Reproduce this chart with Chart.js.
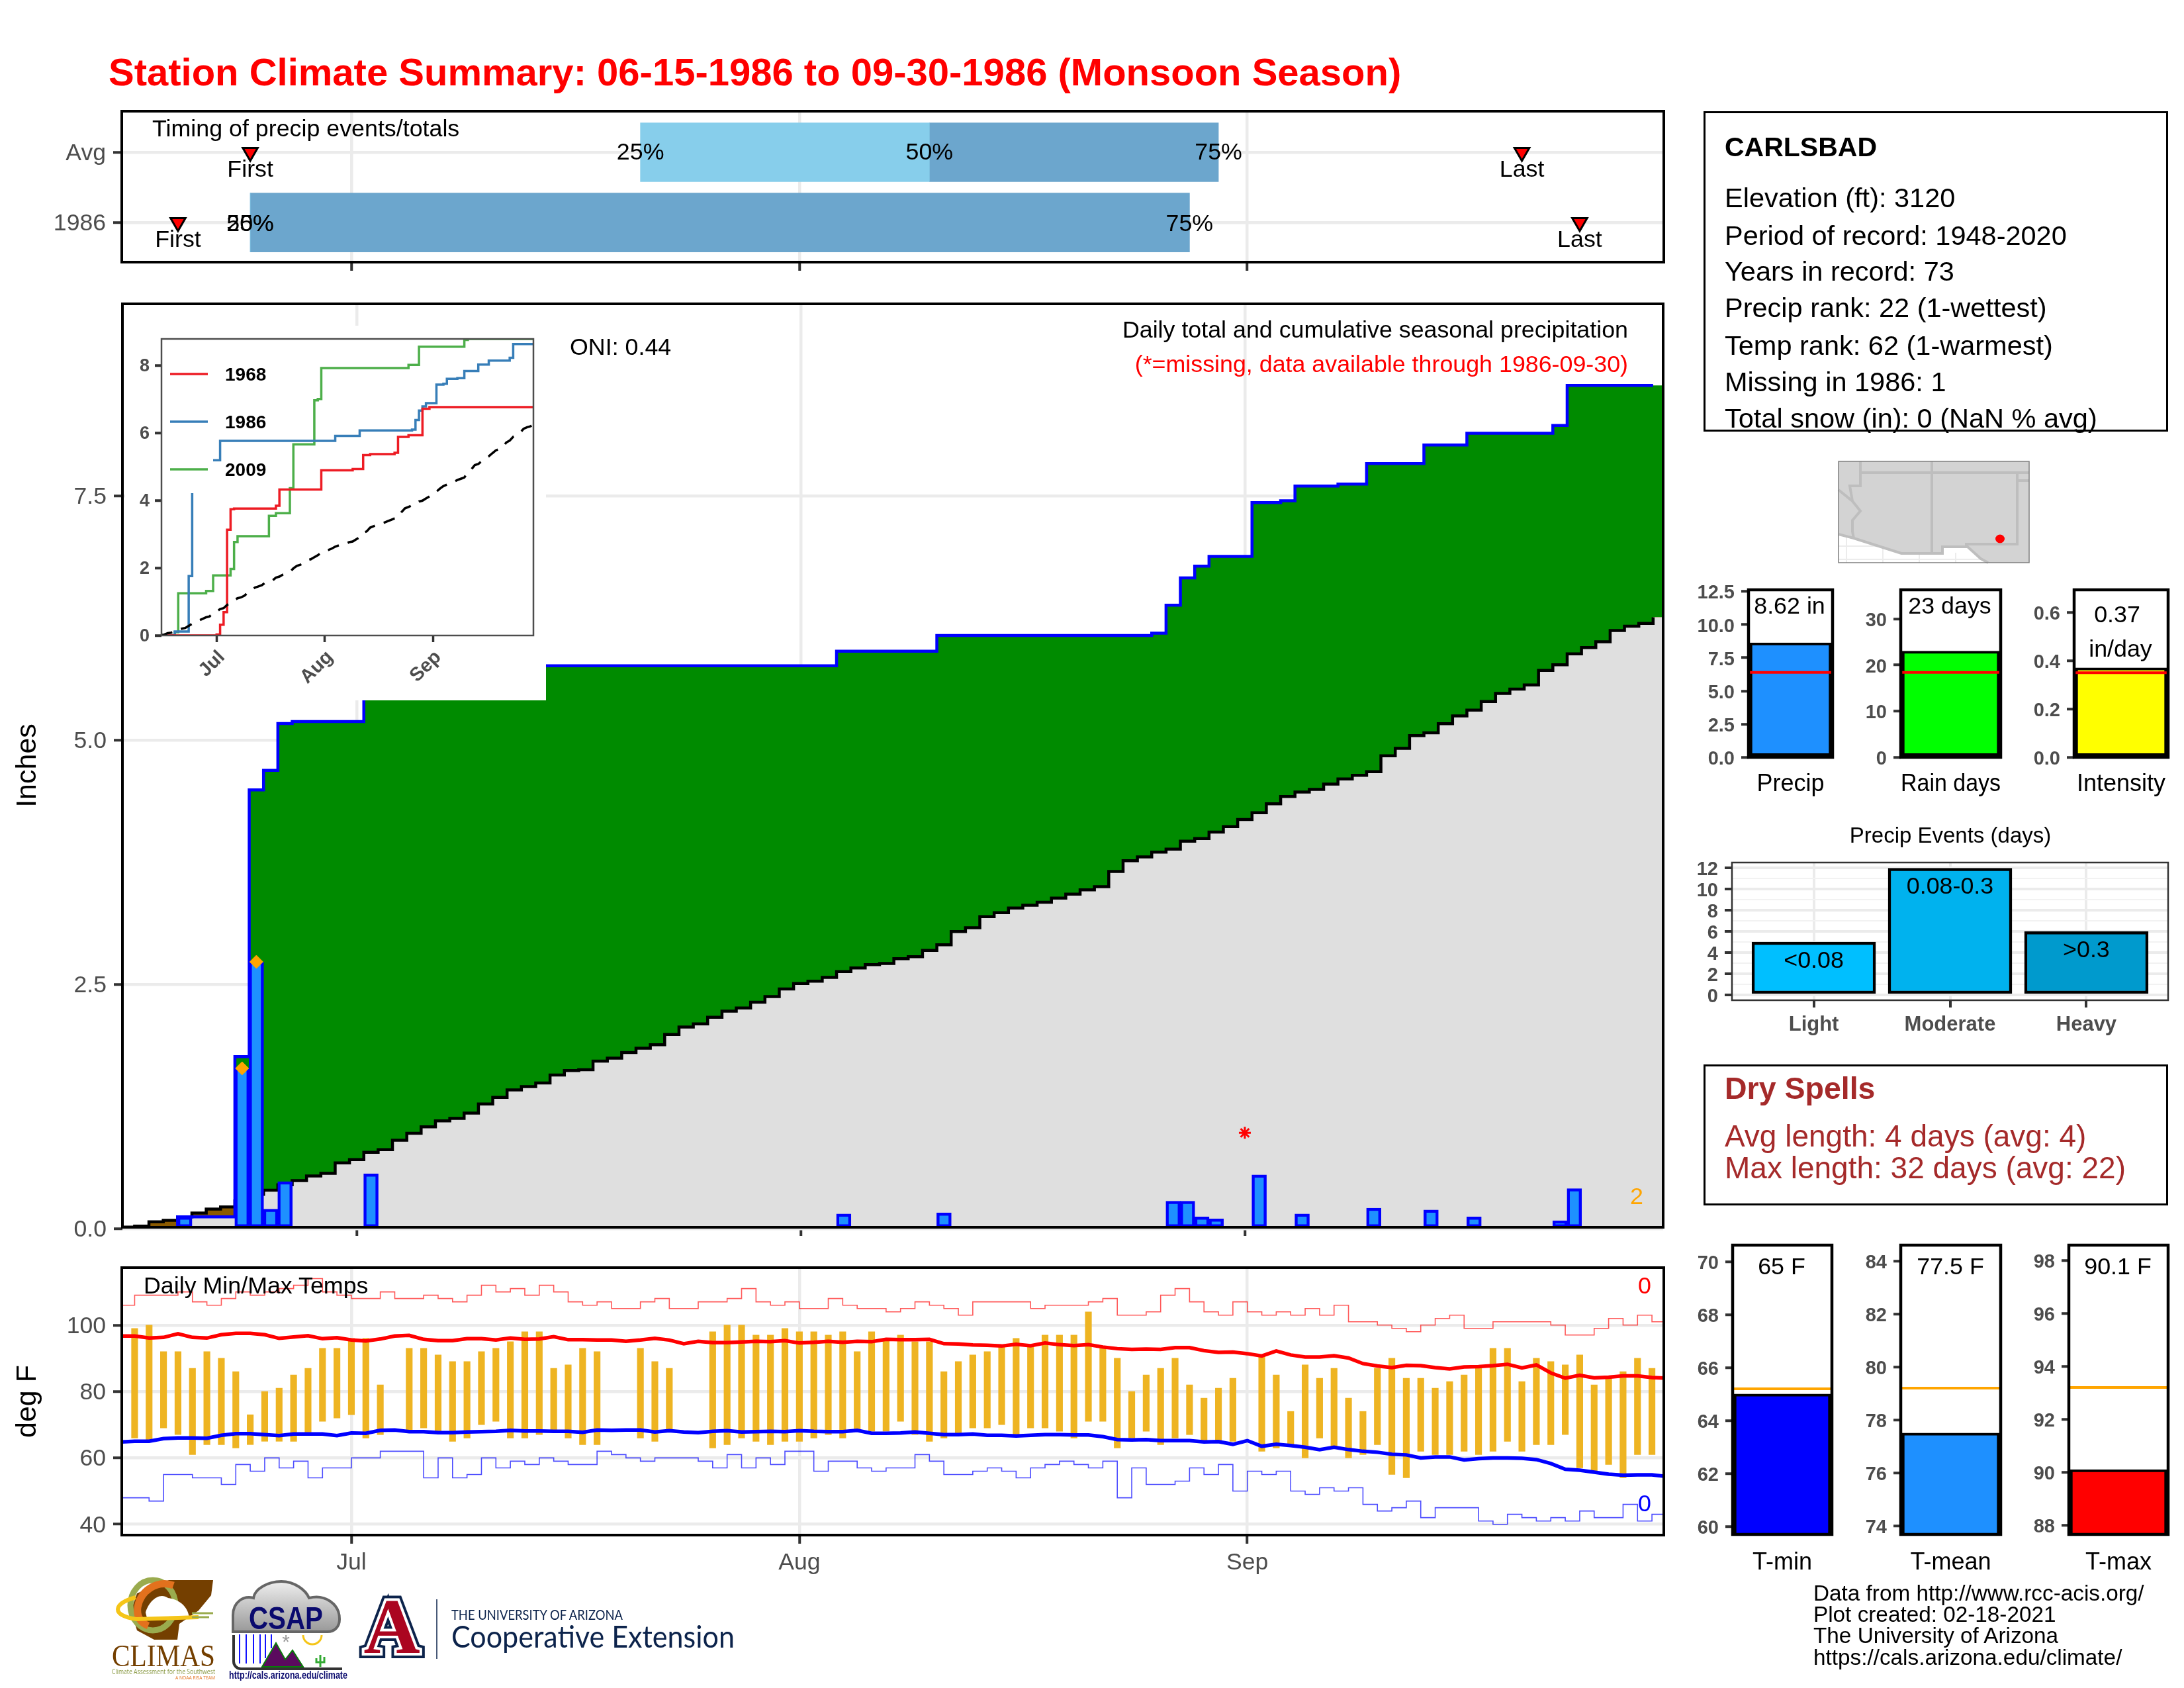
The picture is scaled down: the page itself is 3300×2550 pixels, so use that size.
<!DOCTYPE html>
<html>
<head>
<title>Station Climate Summary</title>
<script src="https://cdn.jsdelivr.net/npm/chart.js"></script>
<style>
    body { margin: 0; background: #fff; font-family: "Liberation Sans", Arial, sans-serif; }
    #page { position: relative; width: 3300px; height: 2550px; overflow: hidden; background: #fff; }
    canvas { position: absolute; }
    .t { position: absolute; z-index: 5; white-space: nowrap; line-height: 1; transform: translateY(-50%); }
    .r { transform: translate(-100%, -50%); }
    .c { transform: translate(-50%, -50%); }
    .box { position: absolute; border: 3px solid #000; box-sizing: border-box; }
    svg { position: absolute; left: 0; top: 0; z-index: 4; }
</style>
</head>
<body>
<div id="page">
    <div class="t" style="left:164px;top:109px;font-size:58px;font-weight:bold;color:#f00">Station Climate Summary: 06-15-1986 to 09-30-1986 (Monsoon Season)</div>

    <div class="t" style="left:230px;top:195px;font-size:35.8px">Timing of precip events/totals</div>
    <div class="t" style="left:861px;top:525px;font-size:35.8px">ONI: 0.44</div>
    <div class="t r" style="left:2460px;top:499px;font-size:35.8px">Daily total and cumulative seasonal precipitation</div>
    <div class="t r" style="left:2460px;top:551px;font-size:35.8px;color:#f00">(*=missing, data available through 1986-09-30)</div>
    <div class="t c" style="left:2473px;top:1808px;font-size:35.8px;color:orange">2</div>
    <div class="t" style="left:217px;top:1943px;font-size:35.8px">Daily Min/Max Temps</div>
    <div class="t c" style="left:2485px;top:1943px;font-size:35.8px;color:#f00">0</div>
    <div class="t c" style="left:2485px;top:2272px;font-size:35.8px;color:#00f">0</div>

    <div class="box" style="left:2574px;top:168px;width:702px;height:484px"></div>
    <div class="t" style="left:2606px;top:222px;font-size:41px;font-weight:bold">CARLSBAD</div>
    <div class="t" style="left:2606px;top:299px;font-size:41.5px">Elevation (ft): 3120</div>
    <div class="t" style="left:2606px;top:356px;font-size:41.5px">Period of record: 1948-2020</div>
    <div class="t" style="left:2606px;top:410px;font-size:41.5px">Years in record: 73</div>
    <div class="t" style="left:2606px;top:465px;font-size:41.5px">Precip rank: 22 (1-wettest)</div>
    <div class="t" style="left:2606px;top:522px;font-size:41.5px">Temp rank: 62 (1-warmest)</div>
    <div class="t" style="left:2606px;top:577px;font-size:41.5px">Missing in 1986: 1</div>
    <div class="t" style="left:2606px;top:632px;font-size:41.5px">Total snow (in): 0 (NaN % avg)</div>

    <div class="t c" style="left:2947px;top:1261px;font-size:33px">Precip Events (days)</div>

    <div class="box" style="left:2574px;top:1608px;width:702px;height:213px"></div>
    <div class="t" style="left:2606px;top:1644px;font-size:46.5px;font-weight:bold;color:#a52a2a">Dry Spells</div>
    <div class="t" style="left:2606px;top:1716px;font-size:46px;color:#a52a2a">Avg length: 4 days (avg: 4)</div>
    <div class="t" style="left:2606px;top:1764px;font-size:46px;color:#a52a2a">Max length: 32 days (avg: 22)</div>

    <div class="t" style="left:2740px;top:2407px;font-size:33.3px">Data from http://www.rcc-acis.org/</div>
    <div class="t" style="left:2740px;top:2439px;font-size:33.3px">Plot created: 02-18-2021</div>
    <div class="t" style="left:2740px;top:2471px;font-size:33.3px">The University of Arizona</div>
    <div class="t" style="left:2740px;top:2504px;font-size:33.3px">https://cals.arizona.edu/climate/</div>

    <svg width="3300" height="2550" viewBox="0 0 3300 2550">
        <!-- locator map -->
        <rect x="2778" y="697" width="288" height="153" fill="#fff"/>
        <g stroke="#ececec" stroke-width="2">
            <path d="M2790 810V850M2845 825V850M2900 835V850M2955 835V850M2778 825H2900M2778 845H3066"/>
        </g>
        <path d="M2778 807L2801 813L2873 836H2935V826H2973L2993 844L3004 850H3066V697H2778Z" fill="#d3d3d3"/>
        <g fill="none" stroke="#bebebe" stroke-width="4">
            <path d="M2778 807L2801 813L2873 836H2935V826H2973L2993 844L3004 850"/>
            <path d="M2811 697V734H2795L2799 757L2811 772L2799 786V803L2801 813"/>
            <path d="M2778 740L2799 757"/>
            <path d="M2811 714H3066M2919 697V836M3048 714V822H2969M3048 726H3066"/>
        </g>
        <rect x="2778" y="697" width="288" height="153" fill="none" stroke="#7f7f7f" stroke-width="1.5"/>
        <ellipse cx="3022" cy="814" rx="7" ry="6.5" fill="#f00"/>

        <!-- CLIMAS logo -->
        <path d="M255 2387H322L319 2410L300 2433L271 2453L268 2477H233L207 2463L198 2433L207 2407Z" fill="#743f00"/>
        <ellipse cx="231" cy="2425" rx="34" ry="38" fill="none" stroke="#9aab4e" stroke-width="9"/>
        <path d="M262 2395C236 2386 212 2404 208 2428C206 2444 214 2452 224 2456" fill="none" stroke="#e2711d" stroke-width="11"/>
        <path d="M220 2436C224 2420 240 2404 254 2414C270 2416 284 2426 286 2444H222Z" fill="#fff"/>
        <path d="M205 2413C172 2422 166 2440 206 2446L300 2443" fill="none" stroke="#f5c518" stroke-width="6"/>
        <path d="M290 2437H322M290 2443H316" stroke="#9aab4e" stroke-width="3"/>
        <text x="169" y="2517" font-family="Liberation Serif" font-size="46" fill="#743f00" textLength="156" lengthAdjust="spacingAndGlyphs">CLIMAS</text>
        <text x="169" y="2529" font-family="Open Sans" font-size="11" fill="#8a9a45" textLength="156" lengthAdjust="spacingAndGlyphs">Climate Assessment for the Southwest</text>
        <text x="265" y="2537" font-family="Open Sans" font-size="8" fill="#e2711d" textLength="60" lengthAdjust="spacingAndGlyphs">A NOAA RISA TEAM</text>

        <!-- CSAP logo -->
        <defs><linearGradient id="cloud" x1="0" y1="0" x2="0" y2="1"><stop offset="0" stop-color="#eee"/><stop offset="1" stop-color="#999"/></linearGradient></defs>
        <path d="M352 2465V2440C352 2420 368 2410 383 2414C385 2400 405 2389 425 2389C445 2389 462 2402 467 2414C490 2408 513 2422 513 2446C513 2458 505 2465 495 2465Z" fill="url(#cloud)" stroke="#666" stroke-width="4"/>
        <text x="432" y="2461" text-anchor="middle" font-family="Liberation Sans" font-weight="bold" font-size="48" fill="#0a0a6e" textLength="112" lengthAdjust="spacingAndGlyphs">CSAP</text>
        <path d="M362 2469V2513M372 2469V2513M383 2469V2513M393 2469V2513M401 2469V2505M410 2469V2490" stroke="#11f" stroke-width="2"/>
        <path d="M353 2470V2510C353 2516 358 2521 364 2521H517" fill="none" stroke="#333" stroke-width="4"/>
        <path d="M396 2518L417 2482L431 2507L442 2493L458 2518Z" fill="#5b0a5e" stroke="#0a7a0a" stroke-width="2"/>
        <path d="M458 2470A14 14 0 0 0 486 2470" fill="none" stroke="#f5c518" stroke-width="3"/>
        <text x="432" y="2490" text-anchor="middle" font-size="30" font-family="Liberation Sans" fill="#999">*</text>
        <path d="M484 2500V2518M478 2505V2511H490V2503" fill="none" stroke="#3a3" stroke-width="3"/>
        <text x="346" y="2536" font-family="Liberation Sans" font-weight="bold" font-size="16" fill="#0a0a6e" textLength="179" lengthAdjust="spacingAndGlyphs">http://cals.arizona.edu/climate</text>

        <!-- University of Arizona logo -->
        <g font-family="Liberation Serif" font-weight="bold" font-size="118" text-anchor="middle">
            <text x="592" y="2497" fill="#0c234b" stroke="#0c234b" stroke-width="16" stroke-linejoin="miter">A</text>
            <text x="592" y="2497" fill="#fff" stroke="#fff" stroke-width="8" stroke-linejoin="miter">A</text>
            <text x="592" y="2497" fill="#ab0520">A</text>
        </g>
        <line x1="660" y1="2416" x2="660" y2="2506" stroke="#0c234b" stroke-width="1.5"/>
        <text x="682" y="2447" font-family="Lato" font-size="22" fill="#0c234b" textLength="259" lengthAdjust="spacingAndGlyphs">THE UNIVERSITY OF ARIZONA</text>
        <text x="682" y="2489" font-family="Lato" font-size="46" fill="#0c234b" textLength="428" lengthAdjust="spacingAndGlyphs">Cooperative Extension</text>
    </svg>
</div>

<script>
    // Months on the shared day axis (day 0 = Jun 15)
    const monthTicks = [16, 47, 78];
    const monthNames = ['Jul', 'Aug', 'Sep'];

    // Timing panel
    const timingRows = ['Avg', '1986'];
    const firstDay = [9, 4];
    const lastDay = [97, 101];
    const q25Day = [36, 9];
    const q50Day = [56, 9];
    const q75Day = [76, 74];

    // Daily precip (in)
    const rainDays = [4, 8, 9, 10, 11, 12, 17, 50, 57, 72, 73, 74, 75, 76, 79, 81, 82, 85, 87, 91, 94, 100, 101];
    const rainVals = [0.12, 1.64, 2.73, 0.2, 0.48, 0.02, 0.56, 0.15, 0.16, 0.02, 0.28, 0.28, 0.12, 0.1, 0.55, 0.02, 0.15, 0.02, 0.21, 0.19, 0.12, 0.08, 0.41];
    const diamondDays = [8, 9];
    const diamondVals = [1.64, 2.73];

    // Cumulative seasonal precip, one value per day
    const cum1986 = [0, 0, 0, 0, 0.12, 0.12, 0.12, 0.12, 1.76, 4.49,
        4.69, 5.17, 5.19, 5.19, 5.19, 5.19, 5.19, 5.76, 5.76, 5.76,
        5.76, 5.76, 5.76, 5.76, 5.76, 5.76, 5.76, 5.76, 5.76, 5.76,
        5.76, 5.76, 5.76, 5.76, 5.76, 5.76, 5.76, 5.76, 5.76, 5.76,
        5.76, 5.76, 5.76, 5.76, 5.76, 5.76, 5.76, 5.76, 5.76, 5.76,
        5.91, 5.91, 5.91, 5.91, 5.91, 5.91, 5.91, 6.07, 6.07, 6.07,
        6.07, 6.07, 6.07, 6.07, 6.07, 6.07, 6.07, 6.07, 6.07, 6.07,
        6.07, 6.07, 6.095, 6.38, 6.66, 6.78, 6.88, 6.88, 6.88, 7.43,
        7.43, 7.45, 7.6, 7.6, 7.6, 7.62, 7.62, 7.83, 7.83, 7.83,
        7.83, 8.02, 8.02, 8.02, 8.14, 8.14, 8.14, 8.14, 8.14, 8.14,
        8.22, 8.63, 8.63, 8.63, 8.63, 8.63, 8.63, 8.63];
    const cumAvg = [0.016, 0.026, 0.07, 0.084, 0.12, 0.159, 0.2, 0.222, 0.285, 0.35,
        0.393, 0.448, 0.491, 0.539, 0.566, 0.673, 0.707, 0.781, 0.808, 0.904,
        0.976, 1.042, 1.103, 1.128, 1.182, 1.275, 1.343, 1.42, 1.454, 1.49,
        1.572, 1.617, 1.626, 1.714, 1.744, 1.803, 1.846, 1.882, 1.986, 2.063,
        2.095, 2.163, 2.226, 2.258, 2.317, 2.375, 2.452, 2.509, 2.532, 2.572,
        2.631, 2.668, 2.702, 2.713, 2.763, 2.783, 2.847, 2.905, 3.041, 3.08,
        3.193, 3.234, 3.281, 3.309, 3.34, 3.383, 3.424, 3.467, 3.499, 3.655,
        3.766, 3.804, 3.854, 3.884, 3.965, 3.992, 4.058, 4.115, 4.187, 4.257,
        4.348, 4.423, 4.468, 4.495, 4.55, 4.602, 4.64, 4.676, 4.839, 4.916,
        5.045, 5.075, 5.168, 5.247, 5.306, 5.394, 5.478, 5.521, 5.564, 5.713,
        5.77, 5.883, 5.947, 6.006, 6.121, 6.166, 6.194, 6.257];
    const missingDays = [78];
    const missingVals = [0.98];

    // Inset: other years, as (day of change, new total)
    const days1968 = [0, 16, 17, 18, 19, 20, 21, 33, 34, 46, 55, 58, 60, 67, 68, 71, 75, 77, 107];
    const vals1968 = [0, 0.03, 0.32, 0.69, 3.13, 3.74, 3.76, 3.84, 4.32, 4.89, 4.93, 5.34, 5.37, 5.41, 5.88, 5.93, 6.71, 6.76, 6.76];
    const days2009 = [0, 4, 5, 13, 15, 20, 21, 22, 31, 33, 37, 38, 44, 45, 46, 71, 74, 87, 88, 107];
    const vals2009 = [0, 0.1, 1.25, 1.32, 1.78, 1.97, 2.77, 2.94, 3.54, 3.62, 4.36, 5.66, 6.96, 7.0, 7.92, 8.01, 8.55, 8.75, 8.78, 8.78];
    const insetYears = ['1968', '1986', '2009'];
    const insetColors = ['#ed1c24', '#377eb8', '#4daf4a'];

    // Daily temps (deg F)
    const tHigh = [null, 99, 100, 92, 92, 87, 92, 90, 86, 73,
        80, 81, 85, 87, 93, 93, 96, 96, 82, null,
        93, 93, 91, 89, 89, 92, 93, 95, 98, 98,
        87, 88, 93, 92, null, null, 93, 89, 87, null,
        null, 98, 100, 100, 97, 97, 99, 98, 98, 97,
        98, 92, 98, 96, 97, 95, 95, 86, 89, 91,
        92, 94, 96, 94, 97, 97, 97, 104, 93, 90,
        80, 85, 87, 90, 82, 78, 81, 84, null, 91,
        85, 74, 88, 84, 87, 78, 74, 87, 90, 84,
        84, 81, 83, 85, 87, 93, 93, 83, 90, 89,
        88, 91, 82, 84, 86, 90, 87, null];
    const tLow = [null, 66, 65, 69, 67, 61, 64, 64, 63, 64,
        65, 65, 65, 67, 71, 72, 73, 66, 67, null,
        68, 69, 68, 65, 66, 70, 71, 66, 66, 67,
        68, 66, 64, 64, null, null, 66, 65, 68, null,
        null, 63, 64, 66, 65, 64, 65, 65, 66, 67,
        66, 68, 68, 68, 71, 67, 65, 66, 67, 69,
        69, 70, 67, 69, 69, 68, 66, 71, 71, 63,
        66, 68, 64, 66, 67, 65, 65, 65, null, 62,
        63, 64, 60, 66, 63, 60, 61, 64, 55, 54,
        62, 61, 61, 62, 61, 62, 65, 62, 64, 64,
        67, 57, 56, 58, 54, 61, 61, null];
    const recordHigh = [106, 109, 109, 109, 110, 107, 106, 108, 110, 109,
        110, 111, 112, 114, 110, 109, 108, 108, 110, 108,
        108, 109, 108, 107, 109, 112, 110, 111, 109, 112,
        110, 107, 106, 107, 105, 105, 107, 108, 105, 105,
        107, 107, 108, 111, 107, 106, 107, 105, 105, 108,
        106, 105, 105, 104, 105, 107, 106, 105, 103, 107,
        107, 107, 107, 105, 106, 106, 106, 107, 108, 103,
        103, 104, 109, 111, 107, 104, 103, 107, 104, 103,
        104, 103, 105, 103, 106, 101, 101, 100, 99, 98,
        100, 102, 103, 99, 99, 101, 101, 101, 101, 100,
        97, 97, 99, 102, 100, 103, 101, 101];
    const recordLow = [48, 48, 47, 55, 55, 54, 54, 52, 58, 56,
        60, 57, 59, 54, 57, 57, 60, 60, 62, 62,
        62, 54, 60, 54, 55, 60, 57, 59, 58, 60,
        59, 58, 58, 62, 61, 60, 59, 60, 60, 60,
        59, 57, 61, 57, 60, 58, 62, 62, 56, 59,
        59, 57, 56, 57, 57, 61, 59, 55, 55, 56,
        57, 56, 54, 57, 58, 59, 58, 57, 59, 48,
        57, 52, 52, 53, 57, 55, 58, 50, 56, 55,
        56, 50, 49, 51, 50, 51, 46, 44, 45, 47,
        42, 45, 45, 45, 41, 40, 43, 42, 41, 42,
        41, 44, 42, 42, 46, 41, 43, 43];
    const normalHigh = [96.7, 96.7, 96.1, 96.3, 97.4, 96.3, 96.1, 97.1, 97.5, 97.5,
        97.1, 96, 96.4, 96.8, 95.9, 96.2, 95.5, 95.2, 95.8, 96.7,
        96.9, 95.7, 95.3, 95.3, 95.9, 95.9, 95.5, 96.1, 95.7, 95.8,
        96.5, 95.6, 95.6, 95.5, 95.5, 95.1, 95.5, 96, 95.5, 94.4,
        95.1, 94.7, 94.7, 94.9, 95.1, 95, 95.3, 94.6, 94.8, 95.1,
        94.8, 95.1, 95, 95.7, 95.6, 95.6, 95.7, 94.4, 94.3, 94,
        93.9, 93.7, 94.2, 93.8, 94.6, 94.1, 93.8, 94.1, 93.4, 92.9,
        92.7, 92.8, 92.7, 93.2, 93.2, 92.3, 91.8, 91.9, 91.4, 90.7,
        92.2, 91, 90.4, 90.4, 90.8, 90.1, 88.4, 87.7, 87.2, 87.9,
        87.8, 87.2, 86.8, 87.4, 87.5, 87.8, 88.2, 87.1, 88, 85.6,
        84, 84.9, 84.1, 84.3, 84.7, 84.7, 84.2, 84];
    const normalLow = [64.8, 65, 65, 65.8, 66, 66, 65.9, 66.8, 67.3, 67.3,
        67, 66.7, 67.2, 67.2, 67.2, 66.7, 67.5, 67.4, 68.3, 68.4,
        67.9, 67.9, 67.6, 67.6, 67.8, 67.9, 68, 68.3, 68.1, 68.1,
        68, 68, 67.7, 68.4, 68.3, 68.4, 68.4, 67.8, 68.2, 67.8,
        67.6, 68, 68.2, 67.8, 67.9, 68, 67.9, 68.2, 68, 67.9,
        67.9, 68.3, 67.4, 67.4, 67.5, 67.8, 67.4, 67, 67, 67.2,
        66.8, 66.8, 66.6, 66.8, 67, 67, 66.9, 66.9, 66.4, 65.5,
        65.4, 65.5, 65.2, 65.2, 65.2, 64.8, 64.9, 64.1, 65.2, 63.5,
        64.1, 63.7, 63.2, 62.5, 63.2, 62.5, 62, 61.7, 61.1, 60.9,
        60, 60.3, 60.3, 59.4, 59.8, 60, 60, 59.9, 59.5, 58.3,
        56.6, 56.3, 55.7, 55.1, 54.8, 54.9, 54.9, 54.4];

    // Right column summaries
    const eventLabels = ['Light', 'Moderate', 'Heavy'];
    const eventTexts = ['<0.08', '0.08-0.3', '>0.3'];
    const eventCounts = [5, 12, 6];
    const precipSummaryValues = [8.62, 23, 0.37];
    const precipSummaryNormals = [6.4, 18.4, 0.35];
    const tempSummaryValues = [65, 77.5, 90.1];
    const tempSummaryNormals = [65.2, 79.2, 93.2];

    const FONT = '"Liberation Sans", Arial, sans-serif';
    const GREY = '#4d4d4d';
    const GRID = '#ebebeb';
    const TICK = '#333333';
    Chart.defaults.font.family = FONT;

    const page = document.getElementById('page');

    function addCanvas(left, top, w, h, background) {
        const c = document.createElement('canvas');
        c.width = w;
        c.height = h;
        c.style.left = left + 'px';
        c.style.top = top + 'px';
        if (background) c.style.background = background;
        page.appendChild(c);
        return c.getContext('2d');
    }

    function baseOptions(scales, padding) {
        return {
            responsive: false,
            animation: false,
            devicePixelRatio: 1,
            events: [],
            layout: { padding },
            plugins: { legend: { display: false }, tooltip: { enabled: false } },
            elements: { point: { radius: 0 } },
            scales
        };
    }

    // Stop the scales reserving room for their first/last labels, the plot box is fixed
    function noPadding(s) {
        s.paddingTop = 0;
        s.paddingBottom = 0;
        s.paddingLeft = 0;
        s.paddingRight = 0;
    }

    // Panel frame on top of the marks
    function framePlugin(width, color) {
        return {
            id: 'frame',
            afterDatasetsDraw(chart) {
                const a = chart.chartArea;
                const ctx = chart.ctx;
                ctx.save();
                ctx.strokeStyle = color;
                ctx.lineWidth = width;
                ctx.strokeRect(a.left, a.top, a.right - a.left, a.bottom - a.top);
                ctx.restore();
            }
        };
    }

    // Labels placed through the chart's scales
    function textPlugin(items) {
        return {
            id: 'plotText',
            afterDatasetsDraw(chart) {
                const ctx = chart.ctx;
                ctx.save();
                ctx.textAlign = 'center';
                ctx.textBaseline = 'middle';
                ctx.fillStyle = '#000';
                ctx.font = '35.8px ' + FONT;
                items.forEach(it => {
                    ctx.fillText(it.text, chart.scales.x.getPixelForValue(it.x), chart.scales.y.getPixelForValue(it.y) + (it.dy || 0));
                });
                ctx.restore();
            }
        };
    }

    function dayAxis(min, max, height, showLabels, fontSize) {
        return {
            type: 'linear', min, max, bounds: 'data', offset: false,
            afterBuildTicks: s => { s.ticks = monthTicks.map(v => ({ value: v })); },
            afterFit: s => { s.height = height; noPadding(s); },
            grid: { offset: false, color: GRID, lineWidth: 4.5, tickColor: TICK, tickWidth: 4, tickLength: 13 },
            border: { display: false },
            ticks: {
                display: showLabels, autoSkip: false, maxRotation: 0, minRotation: 0, padding: 8,
                color: GREY, font: { size: fontSize || 35.6 },
                callback: v => monthNames[monthTicks.indexOf(v)]
            }
        };
    }

    function valueAxis(min, max, ticks, labels, width, o) {
        o = o || {};
        return {
            type: 'linear', min, max, bounds: 'data', offset: false, reverse: !!o.reverse,
            afterBuildTicks: s => { s.ticks = ticks.map(v => ({ value: v })); },
            afterFit: s => { s.width = width; noPadding(s); },
            grid: { display: true, offset: false, drawOnChartArea: o.grid !== false, color: GRID, lineWidth: 4.5, tickColor: TICK, tickWidth: 4, tickLength: o.tickLength || 13 },
            border: { display: false },
            title: o.title ? { display: true, text: o.title, color: '#000', font: { size: 43 }, padding: { top: 16, bottom: 0 } } : { display: false },
            ticks: {
                autoSkip: false, padding: o.padding || 11, color: GREY, labelOffset: o.labelShift === undefined ? 2 : o.labelShift,
                font: { size: o.size || 35.6, weight: o.bold ? 'bold' : 'normal' },
                callback: v => labels[ticks.indexOf(v)]
            }
        };
    }

    function points(xs, ys) {
        return xs.map((x, i) => ({ x, y: ys[i] }));
    }

    // ---- Timing panel ----
    new Chart(addCanvas(0, 150, 2530, 266), {
        type: 'line',
        data: {
            datasets: [
                { label: '50-75%', type: 'bar', indexAxis: 'y', grouped: false, order: 3, barThickness: 89, backgroundColor: '#6ca6cd',
                  data: timingRows.map((_, i) => ({ y: i, x: [q50Day[i], q75Day[i]] })) },
                { label: '25-50%', type: 'bar', indexAxis: 'y', grouped: false, order: 2, barThickness: 89, backgroundColor: '#87ceeb',
                  data: timingRows.map((_, i) => ({ y: i, x: [q25Day[i], q50Day[i]] })) },
                { label: 'First', showLine: false, order: 1, pointStyle: 'triangle', pointRotation: 180, pointRadius: 13, pointBackgroundColor: '#f00', pointBorderColor: '#000', pointBorderWidth: 3,
                  data: firstDay.map((x, i) => ({ x, y: i })) },
                { label: 'Last', showLine: false, order: 1, pointStyle: 'triangle', pointRotation: 180, pointRadius: 13, pointBackgroundColor: '#f00', pointBorderColor: '#000', pointBorderWidth: 3,
                  data: lastDay.map((x, i) => ({ x, y: i })) }
            ]
        },
        options: baseOptions({
            x: dayAxis(0.11, 106.82, 20, false),
            y: valueAxis(-0.585, 1.565, [0, 1], timingRows, 184, { reverse: true })
        }, { top: 18, right: 16 }),
        plugins: [framePlugin(4, '#000'), textPlugin(
            timingRows.flatMap((_, i) => [
                { text: 'First', x: firstDay[i], y: i, dy: 27 },
                { text: 'Last', x: lastDay[i], y: i, dy: 27 },
                { text: '25%', x: q25Day[i], y: i, dy: i ? 3 : 1 },
                { text: '50%', x: q50Day[i], y: i, dy: i ? 3 : 1 },
                { text: '75%', x: q75Day[i], y: i, dy: i ? 3 : 1 }
            ])
        )]
    });

    // ---- Main precip panel ----
    // steps change half way between days, so each value starts at day - 0.5
    const stepAt = v => v.map((y, i) => ({ x: i - 0.5, y }));
    const ribbonEnd = v => stepAt(v).concat([{ x: 107.5, y: v[v.length - 1] }]);

    new Chart(addCanvas(0, 440, 2530, 1440), {
        type: 'line',
        data: {
            datasets: [
                { label: 'normal area', order: 6, stepped: true, borderWidth: 0, fill: 'origin', backgroundColor: '#dfdfdf', data: ribbonEnd(cumAvg) },
                { label: 'departure', order: 5, stepped: true, borderWidth: 0, fill: { target: 0, above: '#008b00', below: '#8b5a00' }, data: ribbonEnd(cum1986) },
                { label: 'Avg', order: 4, stepped: true, borderColor: '#000', borderWidth: 4.5, fill: false, data: stepAt(cumAvg) },
                { label: '1986', order: 3, stepped: true, borderColor: '#00f', borderWidth: 4.5, fill: false, data: stepAt(cum1986) },
                { label: 'Daily', type: 'bar', order: 2, barThickness: 22, borderSkipped: false, backgroundColor: '#1e90ff', borderColor: '#00f', borderWidth: 4.5, data: points(rainDays, rainVals) },
                { label: 'Max', showLine: false, order: 1, pointStyle: 'rectRot', pointRadius: 10, pointBackgroundColor: 'orange', pointBorderColor: 'orange', data: points(diamondDays, diamondVals) },
                { label: 'Missing', showLine: false, order: 1, pointStyle: 'star', pointRadius: 9, pointBorderColor: '#f00', pointBorderWidth: 3, data: points(missingDays, missingVals) }
            ]
        },
        options: baseOptions({
            x: dayAxis(-0.35, 107.2, 26, false),
            y: valueAxis(0.0135, 9.465, [0, 2.5, 5, 7.5], ['0.0', '2.5', '5.0', '7.5'], 185, { title: 'Inches' })
        }, { top: 19, right: 17 }),
        plugins: [framePlugin(4, '#000')]
    });

    // ---- Inset of wettest / driest years ----
    const insetLegend = {
        id: 'insetLegend',
        afterDatasetsDraw(chart) {
            const ctx = chart.ctx;
            ctx.save();
            ctx.fillStyle = '#fff';
            ctx.fillRect(61, 38, 72, 215);
            ctx.font = 'bold 28px ' + FONT;
            ctx.textBaseline = 'middle';
            insetYears.forEach((year, i) => {
                const y = 73 + i * 72;
                ctx.strokeStyle = insetColors[i];
                ctx.lineWidth = 3.5;
                ctx.beginPath();
                ctx.moveTo(68, y);
                ctx.lineTo(125, y);
                ctx.stroke();
                ctx.fillStyle = '#000';
                ctx.fillText(year, 151, y + 2);
            });
            ctx.restore();
        }
    };
    const insetX = dayAxis(0.2, 106.8, 98, true, 27);
    insetX.grid = { offset: false, drawOnChartArea: false, tickColor: TICK, tickWidth: 3.5, tickLength: 10 };
    insetX.ticks.maxRotation = 45;
    insetX.ticks.minRotation = 45;
    insetX.ticks.padding = 6;
    insetX.ticks.labelOffset = 8;
    insetX.ticks.font = { size: 29, weight: 'bold' };

    new Chart(addCanvas(189, 492, 636, 566, '#fff'), {
        type: 'line',
        data: {
            datasets: [
                { label: 'Avg', stepped: false, borderColor: '#000', borderWidth: 3.5, borderDash: [18, 14], data: points(cumAvg.map((_, i) => i), cumAvg) },
                { label: insetYears[0], stepped: true, borderColor: insetColors[0], borderWidth: 3.5, data: points(days1968, vals1968) },
                { label: insetYears[1], stepped: true, borderColor: insetColors[1], borderWidth: 3.5, data: points(cum1986.map((_, i) => i), cum1986) },
                { label: insetYears[2], stepped: true, borderColor: insetColors[2], borderWidth: 3.5, data: points(days2009, vals2009) }
            ]
        },
        options: baseOptions({
            x: insetX,
            y: valueAxis(0, 8.78, [0, 2, 4, 6, 8], ['0', '2', '4', '6', '8'], 55, { grid: false, size: 27, bold: true, padding: 8, tickLength: 10 })
        }, { top: 20, right: 19 }),
        plugins: [framePlugin(2.5, '#4d4d4d'), insetLegend]
    });

    // ---- Daily temps ----
    new Chart(addCanvas(0, 1895, 2530, 494), {
        type: 'line',
        data: {
            datasets: [
                { label: 'Range', type: 'bar', order: 5, barThickness: 9.5, backgroundColor: '#eeb422',
                  data: tHigh.map((h, i) => ({ x: i, y: [tLow[i], h] })).filter(d => d.y[1] !== null) },
                { label: 'Record high', order: 4, stepped: true, borderColor: 'rgba(255,0,0,.65)', borderWidth: 1.6, data: points(recordHigh.map((_, i) => i), recordHigh) },
                { label: 'Record low', order: 4, stepped: true, borderColor: 'rgba(0,0,255,.7)', borderWidth: 1.6, data: points(recordLow.map((_, i) => i), recordLow) },
                { label: 'Normal high', order: 3, borderColor: '#f00', borderWidth: 5.5, data: points(normalHigh.map((_, i) => i), normalHigh) },
                { label: 'Normal low', order: 3, borderColor: '#00f', borderWidth: 5.5, data: points(normalLow.map((_, i) => i), normalLow) }
            ]
        },
        options: baseOptions({
            x: dayAxis(0.11, 106.82, 70, true),
            y: valueAxis(36.75, 117.3, [40, 60, 80, 100], ['40', '60', '80', '100'], 184, { title: 'deg F' })
        }, { top: 20, right: 16 }),
        plugins: [framePlugin(4, '#000')]
    });

    // ---- Small summary bars ----
    function summaryBar(o) {
        const yWidth = 100;
        const ctx = addCanvas(o.left - yWidth, o.top - 10, o.right - o.left + yWidth + 6, o.bottom - o.top + 10 + o.footer);
        new Chart(ctx, {
            type: 'line',
            data: {
                datasets: [
                    { label: o.name, type: 'bar', order: 2, barThickness: o.right - o.left - 4, borderSkipped: false, backgroundColor: o.color, borderColor: '#000', borderWidth: 4, data: [{ x: 0, y: o.value }] },
                    { label: 'Avg', order: 1, borderColor: o.lineColor, borderWidth: 4, data: [{ x: -0.6, y: o.normal }, { x: 0.6, y: o.normal }] }
                ]
            },
            options: baseOptions({
                x: {
                    type: 'linear', min: -0.6, max: 0.6, bounds: 'data', offset: false,
                    afterFit: s => { s.height = o.footer; noPadding(s); },
                    grid: { display: false, offset: false }, border: { display: false }, ticks: { display: false },
                    title: { display: true, text: o.name, color: '#000', font: { size: 36 }, padding: { top: 0, bottom: 1 } }
                },
                y: valueAxis(o.min, o.max, o.ticks, o.ticks.map(o.format), yWidth, { grid: false, size: 29, bold: true, padding: 10, tickLength: 11, labelShift: 3 })
            }, { top: 10, right: 6 }),
            plugins: [framePlugin(4.5, '#000'), {
                id: 'barText',
                afterDatasetsDraw(chart) {
                    const c = chart.ctx;
                    c.save();
                    c.font = '35.8px ' + FONT;
                    c.textAlign = 'center';
                    c.textBaseline = 'middle';
                    c.fillStyle = '#000';
                    o.text.forEach(t => c.fillText(t.s, t.x - (o.left - yWidth), t.y - (o.top - 10)));
                    c.restore();
                }
            }]
        });
    }

    summaryBar({ name: 'Precip', left: 2642, right: 2769, top: 891, bottom: 1144, footer: 64, color: '#1e90ff', lineColor: '#f00',
        value: precipSummaryValues[0], normal: precipSummaryNormals[0], min: 0, max: 12.62, ticks: [0, 2.5, 5, 7.5, 10, 12.5], format: v => v.toFixed(1),
        text: [{ s: '8.62 in', x: 2704, y: 917 }] });
    summaryBar({ name: 'Rain days', left: 2872, right: 3023, top: 891, bottom: 1144, footer: 64, color: '#00ff00', lineColor: '#f00',
        value: precipSummaryValues[1], normal: precipSummaryNormals[1], min: 0, max: 36.3, ticks: [0, 10, 20, 30], format: v => String(v),
        text: [{ s: '23 days', x: 2946, y: 917 }] });
    summaryBar({ name: 'Intensity', left: 3134, right: 3276, top: 891, bottom: 1144, footer: 64, color: '#ffff00', lineColor: '#f00',
        value: precipSummaryValues[2], normal: precipSummaryNormals[2], min: 0, max: 0.693, ticks: [0, 0.2, 0.4, 0.6], format: v => v.toFixed(1),
        text: [{ s: '0.37', x: 3199, y: 930 }, { s: 'in/day', x: 3204, y: 982 }] });

    summaryBar({ name: 'T-min', left: 2618, right: 2768, top: 1881, bottom: 2318, footer: 66, color: '#0000ff', lineColor: 'orange',
        value: tempSummaryValues[0], normal: tempSummaryNormals[0], min: 59.7, max: 70.62, ticks: [60, 62, 64, 66, 68, 70], format: v => String(v),
        text: [{ s: '65 F', x: 2692, y: 1915 }] });
    summaryBar({ name: 'T-mean', left: 2872, right: 3023, top: 1881, bottom: 2318, footer: 66, color: '#1e90ff', lineColor: 'orange',
        value: tempSummaryValues[1], normal: tempSummaryNormals[1], min: 73.67, max: 84.6, ticks: [74, 76, 78, 80, 82, 84], format: v => String(v),
        text: [{ s: '77.5 F', x: 2947, y: 1915 }] });
    summaryBar({ name: 'T-max', left: 3126, right: 3276, top: 1881, bottom: 2318, footer: 66, color: '#ff0000', lineColor: 'orange',
        value: tempSummaryValues[2], normal: tempSummaryNormals[2], min: 87.65, max: 98.58, ticks: [88, 90, 92, 94, 96, 98], format: v => String(v),
        text: [{ s: '90.1 F', x: 3200, y: 1915 }] });

    // ---- Precip events ----
    const eventTicks = [0, 1, 2, 3, 4, 5, 6, 7, 8, 9, 10, 11, 12];
    const eventY = valueAxis(-0.5, 12.53, eventTicks, eventTicks.map(v => v % 2 ? '' : String(v)), 100, { size: 29, bold: true, padding: 10, tickLength: 11, labelShift: 3 });
    eventY.grid.lineWidth = c => c.tick.value % 2 ? 2 : 4;
    eventY.grid.color = c => c.tick.value % 2 ? '#f2f2f2' : GRID;
    eventY.grid.tickColor = c => c.tick.value % 2 ? 'rgba(0,0,0,0)' : TICK;

    new Chart(addCanvas(2517, 1293, 765, 280), {
        type: 'line',
        data: {
            datasets: [{
                label: 'Precip Events', type: 'bar', barThickness: 187, borderSkipped: false,
                backgroundColor: ['#00bfff', '#00b2ee', '#009acd'], borderColor: '#000', borderWidth: 4.5,
                data: points(eventLabels.map((_, i) => i), eventCounts)
            }]
        },
        options: baseOptions({
            x: {
                type: 'linear', min: -0.6, max: 2.6, bounds: 'data', offset: false,
                afterBuildTicks: s => { s.ticks = eventLabels.map((_, i) => ({ value: i })); },
                afterFit: s => { s.height = 62; noPadding(s); },
                grid: { offset: false, color: GRID, lineWidth: 4, tickColor: TICK, tickWidth: 4, tickLength: 11 },
                border: { display: false },
                ticks: { autoSkip: false, maxRotation: 0, padding: 8, color: GREY, font: { size: 31, weight: 'bold' }, callback: v => eventLabels[v] }
            },
            y: eventY
        }, { top: 10, right: 6 }),
        plugins: [framePlugin(2.5, '#333'), textPlugin(eventLabels.map((_, i) => ({ text: eventTexts[i], x: i, y: eventCounts[i], dy: 29 })))]
    });
</script>
</body>
</html>
